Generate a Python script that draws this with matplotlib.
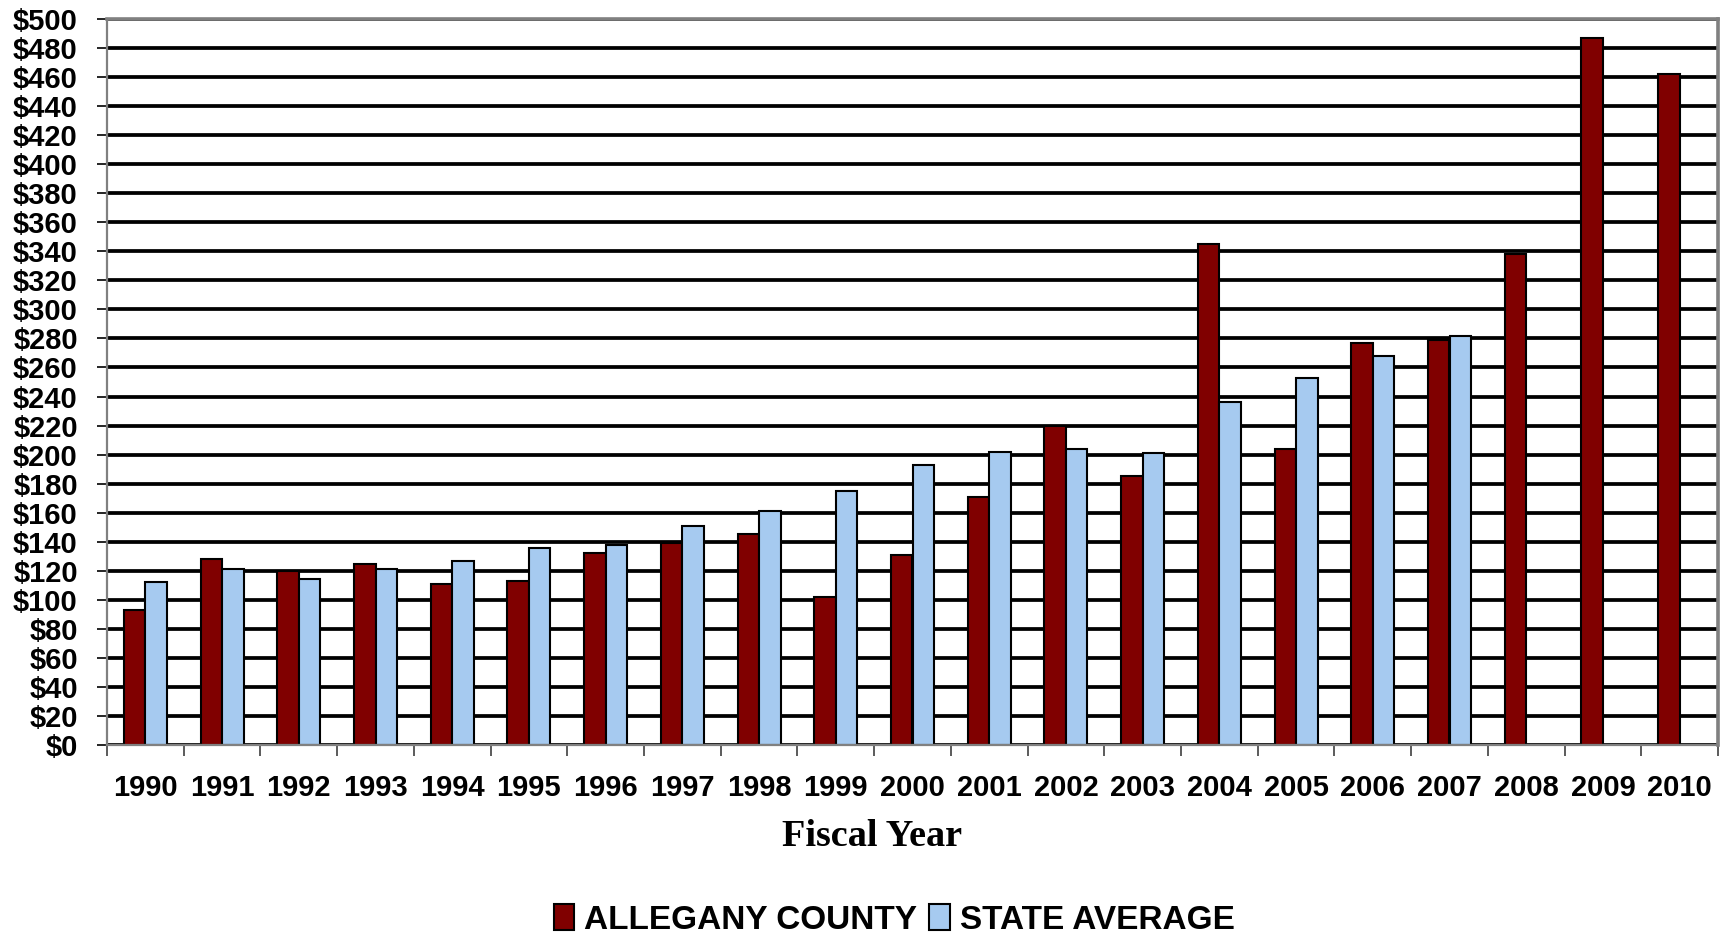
import numpy as np
import matplotlib
matplotlib.use("Agg")
import matplotlib.pyplot as plt
from matplotlib.ticker import FixedLocator, FuncFormatter

years = [str(y) for y in range(1990, 2011)]
allegany = [93, 128, 120, 125, 111, 113, 132, 139, 145, 102, 131,
            171, 220, 185, 345, 204, 277, 279, 338, 487, 462]
state_avg = [112, 121, 114, 121, 127, 136, 138, 151, 161, 175, 193,
             202, 204, 201, 236, 253, 268, 282, np.nan, np.nan, np.nan]

county_color = "#800000"
state_color = "#A6CAF0"
grey = "#808080"

fig = plt.figure(figsize=(17.28, 9.35), dpi=100)
ax = fig.add_axes([107 / 1728, 1 - 745 / 935, (1718 - 107) / 1728, (745 - 19) / 935])

x = np.arange(len(years))
w = 0.28
ax.bar(x - w / 2, allegany, w, color=county_color, edgecolor="black",
       linewidth=1.5, label="ALLEGANY COUNTY", zorder=2)
ax.bar(x + w / 2, state_avg, w, color=state_color, edgecolor="black",
       linewidth=1.5, label="STATE AVERAGE", zorder=2)

ax.set_xlim(-0.5, len(years) - 0.5)
ax.set_ylim(0, 500)

# y axis: dollar ticks every 20 with heavy black gridlines
ax.yaxis.set_major_locator(FixedLocator(np.arange(0, 501, 20)))
ax.yaxis.set_major_formatter(FuncFormatter(lambda v, p: f"${v:.0f}"))
ax.set_axisbelow(True)
ax.yaxis.grid(True, color="black", linewidth=2.7, zorder=0.5)
ax.tick_params(axis="y", direction="out", length=7, width=1.2, color="black",
               pad=14)

# x axis: year labels centred, tick marks on category boundaries
ax.set_xticks(x)
ax.set_xticklabels(years)
ax.set_xticks(np.arange(-0.5, len(years), 1), minor=True)
ax.tick_params(axis="x", which="major", length=0, pad=21)
ax.tick_params(axis="x", which="minor", direction="out", length=8, width=1.2,
               color="#404040")

for lab in ax.get_xticklabels() + ax.get_yticklabels():
    lab.set_fontfamily("Liberation Sans")
    lab.set_fontweight("bold")
    lab.set_fontsize(21)

for side in ["top", "right"]:
    ax.spines[side].set_color(grey)
    ax.spines[side].set_linewidth(2.6)
for side in ["left", "bottom"]:
    ax.spines[side].set_color(grey)
    ax.spines[side].set_linewidth(1.6)

fig.text(872 / 1728, 1 - 836 / 935, "Fiscal Year", ha="center", va="center",
         fontfamily="Liberation Serif", fontweight="bold", fontsize=27.5)

leg = fig.legend(loc="center", bbox_to_anchor=(894 / 1728, 1 - 920 / 935),
                 ncol=2, frameon=False, handlelength=0.62, handleheight=0.8,
                 handletextpad=0.3, columnspacing=0.35,
                 prop={"family": "Liberation Sans", "weight": "bold", "size": 24})

fig.savefig("out.png", dpi=100, facecolor="white")
